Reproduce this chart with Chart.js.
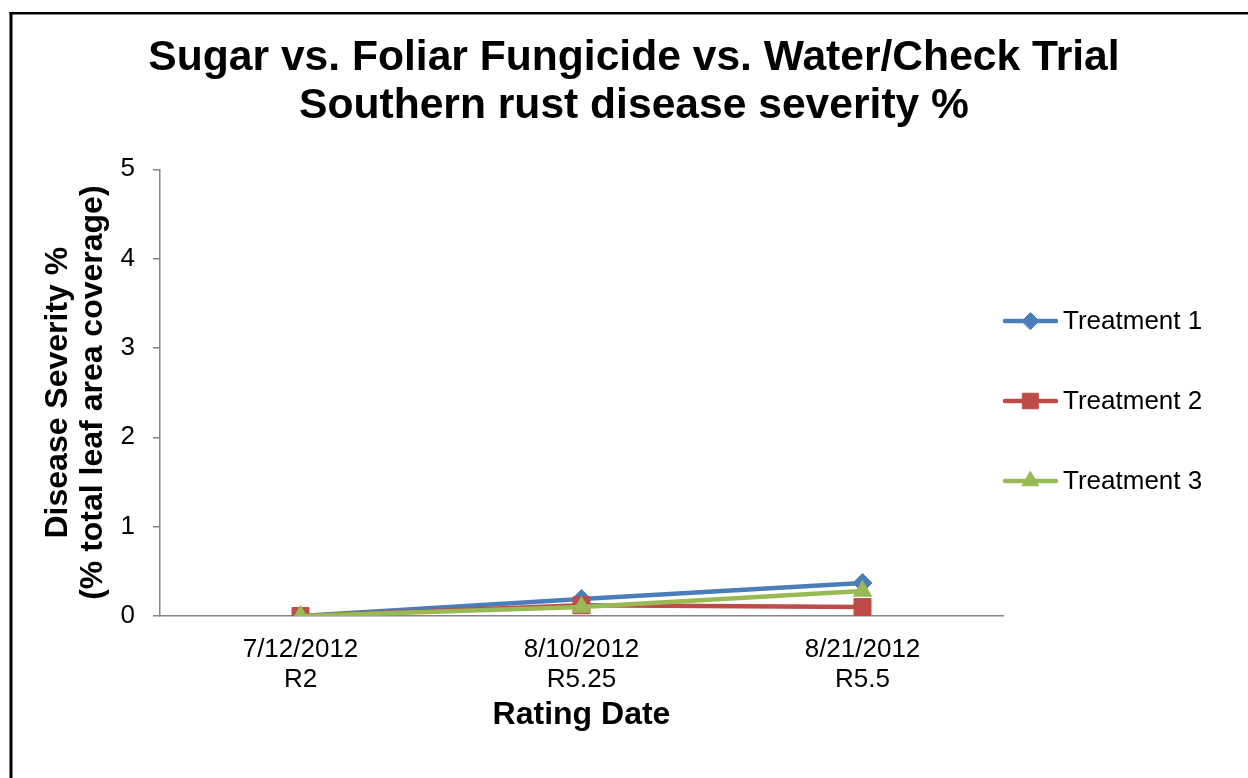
<!DOCTYPE html>
<html>
<head>
<meta charset="utf-8">
<script src="https://cdn.jsdelivr.net/npm/chart.js@4.4.1/dist/chart.umd.min.js"></script>
<style>
  html, body { margin: 0; padding: 0; background: #ffffff; }
  #wrap { width: 1248px; height: 778px; position: relative; }
</style>
</head>
<body>
<div id="wrap"><canvas id="c" width="1248" height="778"></canvas></div>
<script>
const titleLines = ["Sugar vs. Foliar Fungicide vs. Water/Check Trial", "Southern rust disease severity %"];
const categories = [["7/12/2012", "R2"], ["8/10/2012", "R5.25"], ["8/21/2012", "R5.5"]];
const seriesNames = ["Treatment 1", "Treatment 2", "Treatment 3"];
const treatment1 = [0, 0.19, 0.37];
const treatment2 = [0, 0.12, 0.10];
const treatment3 = [0, 0.10, 0.28];
const yTitle = ["Disease Severity %", "(% total leaf area coverage)"];
const xTitle = "Rating Date";

const FONT = "'Liberation Sans', Arial, sans-serif";
const colors = ["#4A7EBB", "#BE4B48", "#98B954"];
const styles = ["rectRot", "rect", "triangle"];
const radii = [9.5, 12, 10.5];

const borderPlugin = {
  id: 'frame',
  beforeDraw(chart) {
    const ctx = chart.ctx;
    ctx.save();
    ctx.fillStyle = '#ffffff';
    ctx.fillRect(0, 0, chart.width, chart.height);
    ctx.fillStyle = '#000000';
    ctx.fillRect(9.5, 12, 3, chart.height - 12);
    ctx.fillRect(9.5, 12, chart.width - 9.5, 2.5);
    ctx.restore();
  }
};

const legendPlugin = {
  id: 'customLegend',
  afterDraw(chart) {
    const ctx = chart.ctx;
    const ys = [321, 401, 481];
    ctx.save();
    chart.data.datasets.forEach((ds, i) => {
      const y = ys[i];
      ctx.strokeStyle = ds.borderColor;
      ctx.lineWidth = 4.5;
      ctx.lineCap = 'round';
      ctx.beginPath();
      ctx.moveTo(1005, y);
      ctx.lineTo(1056, y);
      ctx.stroke();
      ctx.fillStyle = ds.pointBackgroundColor;
      ctx.strokeStyle = ds.pointBorderColor;
      ctx.lineWidth = 1;
      Chart.helpers.drawPoint(ctx, {pointStyle: ds.pointStyle, radius: ds.pointRadius - 1, borderWidth: 1, rotation: 0}, 1030.5, y);
      ctx.fillStyle = '#000000';
      ctx.font = '26px ' + FONT;
      ctx.textAlign = 'left';
      ctx.textBaseline = 'middle';
      ctx.fillText(ds.label, 1063, y + 1);
    });
    ctx.restore();
  }
};

const seriesData = [treatment1, treatment2, treatment3];
const datasets = seriesData.map((d, i) => ({
  label: seriesNames[i],
  data: d,
  yAxisID: 'y',
  borderColor: colors[i],
  backgroundColor: colors[i],
  pointBackgroundColor: colors[i],
  pointBorderColor: colors[i],
  pointBorderWidth: 1,
  pointStyle: styles[i],
  pointRadius: radii[i],
  pointHoverRadius: radii[i],
  borderWidth: 4.5,
  tension: 0,
  order: 3 - i
}));

new Chart(document.getElementById('c'), {
  type: 'line',
  data: { labels: categories, datasets: datasets },
  options: {
    responsive: false,
    animation: false,
    devicePixelRatio: 1,
    layout: { padding: { top: 0, right: 0, bottom: 0, left: 20 } },
    plugins: {
      legend: { display: false },
      tooltip: { enabled: false },
      title: {
        display: true,
        text: titleLines,
        color: '#000000',
        font: { family: FONT, size: 42.6, weight: 'bold', lineHeight: 1.13 },
        padding: { top: 34, bottom: 39 }
      }
    },
    scales: {
      x: {
        type: 'category',
        offset: true,
        afterFit: (s) => { s.height = 162; },
        grid: { display: true, drawOnChartArea: false, drawTicks: false },
        border: { display: true, color: '#868686', width: 1.5 },
        ticks: {
          color: '#000000',
          font: { family: FONT, size: 26, lineHeight: 1.15 },
          padding: 19,
          maxRotation: 0,
          autoSkip: false
        },
        title: {
          display: true,
          text: xTitle,
          color: '#000000',
          font: { family: FONT, size: 32, weight: 'bold', lineHeight: 1.1 },
          padding: 45
        }
      },
      y: {
        position: 'left',
        min: 0,
        max: 5,
        afterFit: (s) => { s.width = 140; },
        grid: { display: true, drawOnChartArea: false, drawTicks: true, tickLength: 7, color: '#868686', lineWidth: 1.5 },
        border: { display: true, color: '#868686', width: 1.5 },
        ticks: {
          stepSize: 1,
          color: '#000000',
          font: { family: FONT, size: 26 },
          padding: 18
        },
        title: {
          display: true,
          text: yTitle,
          color: '#000000',
          font: { family: FONT, size: 32, weight: 'bold', lineHeight: 1.08 },
          padding: 21
        }
      },
      legendSpace: {
        position: 'right',
        min: 0,
        max: 5,
        afterFit: (s) => { s.width = 245; },
        grid: { display: false, drawOnChartArea: false, drawTicks: false },
        border: { display: false },
        ticks: { display: false },
        title: { display: false }
      }
    }
  },
  plugins: [borderPlugin, legendPlugin]
});
</script>
</body>
</html>
